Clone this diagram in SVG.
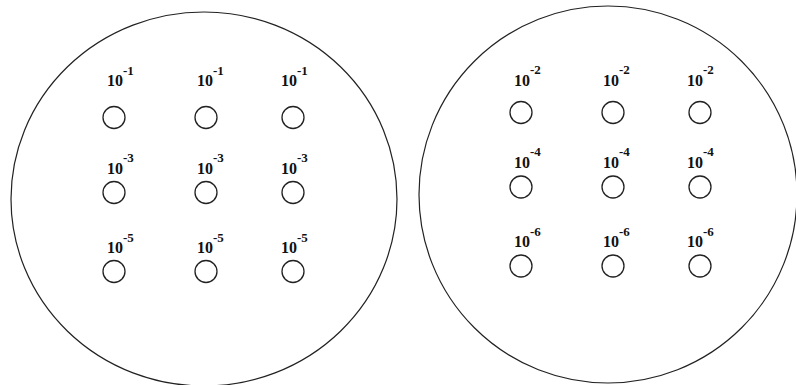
<svg xmlns="http://www.w3.org/2000/svg" width="796" height="385" viewBox="0 0 796 385">
<style>
.big{fill:none;stroke:#222;stroke-width:1.2}
.c{fill:none;stroke:#222;stroke-width:1.3}
.t{font-family:"Liberation Serif","Times New Roman",serif;font-weight:bold;font-size:16px;fill:#111}
.s{font-size:13px}
</style>
<rect width="796" height="385" fill="#fff"/>
<g id="plateA">
<ellipse class="big" cx="204" cy="199" rx="193" ry="187"/>
</g>
<g id="plateB">
<ellipse class="big" cx="608" cy="194.5" rx="189" ry="188.5"/>
</g>
<g id="wellsA">
<g id="a11"><text class="t" x="107" y="86">10<tspan class="s" dy="-11">-1</tspan></text><circle class="c" cx="114" cy="117.5" r="11"/></g>
<g id="a12"><text class="t" x="197" y="86">10<tspan class="s" dy="-11">-1</tspan></text><circle class="c" cx="206" cy="117.5" r="11"/></g>
<g id="a13"><text class="t" x="281" y="86">10<tspan class="s" dy="-11">-1</tspan></text><circle class="c" cx="293" cy="117.5" r="11"/></g>
<g id="a21"><text class="t" x="107" y="174">10<tspan class="s" dy="-12">-3</tspan></text><circle class="c" cx="114" cy="192.5" r="11"/></g>
<g id="a22"><text class="t" x="197" y="174">10<tspan class="s" dy="-12">-3</tspan></text><circle class="c" cx="206" cy="192.5" r="11"/></g>
<g id="a23"><text class="t" x="281" y="174">10<tspan class="s" dy="-12">-3</tspan></text><circle class="c" cx="293" cy="192.5" r="11"/></g>
<g id="a31"><text class="t" x="107" y="253">10<tspan class="s" dy="-11">-5</tspan></text><circle class="c" cx="114" cy="271.5" r="11"/></g>
<g id="a32"><text class="t" x="197" y="253">10<tspan class="s" dy="-11">-5</tspan></text><circle class="c" cx="206" cy="271.5" r="11"/></g>
<g id="a33"><text class="t" x="281" y="253">10<tspan class="s" dy="-11">-5</tspan></text><circle class="c" cx="293" cy="271.5" r="11"/></g>
</g>
<g id="wellsB">
<g id="b11"><text class="t" x="514" y="86">10<tspan class="s" dy="-12">-2</tspan></text><circle class="c" cx="521" cy="112.5" r="11"/></g>
<g id="b12"><text class="t" x="603" y="86">10<tspan class="s" dy="-12">-2</tspan></text><circle class="c" cx="613" cy="112.5" r="11"/></g>
<g id="b13"><text class="t" x="687" y="86">10<tspan class="s" dy="-12">-2</tspan></text><circle class="c" cx="700" cy="112.5" r="11"/></g>
<g id="b21"><text class="t" x="514" y="168">10<tspan class="s" dy="-12">-4</tspan></text><circle class="c" cx="521" cy="187" r="11"/></g>
<g id="b22"><text class="t" x="603" y="168">10<tspan class="s" dy="-12">-4</tspan></text><circle class="c" cx="613" cy="187" r="11"/></g>
<g id="b23"><text class="t" x="687" y="168">10<tspan class="s" dy="-12">-4</tspan></text><circle class="c" cx="700" cy="187" r="11"/></g>
<g id="b31"><text class="t" x="514" y="247">10<tspan class="s" dy="-11">-6</tspan></text><circle class="c" cx="521" cy="266" r="11"/></g>
<g id="b32"><text class="t" x="603" y="247">10<tspan class="s" dy="-11">-6</tspan></text><circle class="c" cx="613" cy="266" r="11"/></g>
<g id="b33"><text class="t" x="687" y="247">10<tspan class="s" dy="-11">-6</tspan></text><circle class="c" cx="700" cy="266" r="11"/></g>
</g>
<g id="connectors"/>
</svg>
